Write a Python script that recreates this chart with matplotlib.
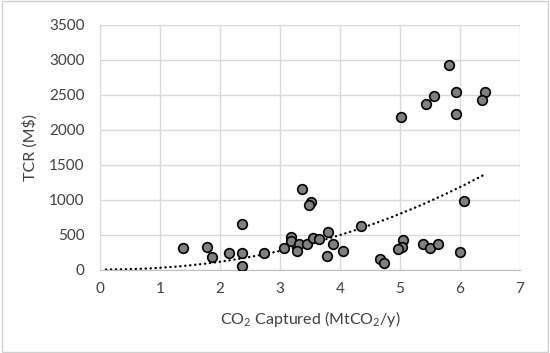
import numpy as np
import matplotlib
matplotlib.use('Agg')
import matplotlib.pyplot as plt
from matplotlib.patches import Rectangle

# CO2 captured (MtCO2/y) and total capital requirement (M$)
co2_captured = [1.38, 1.79, 1.87, 2.15, 2.36, 2.37, 2.37, 2.74, 3.06, 3.19,
                3.18, 3.31, 3.28, 3.45, 3.55, 3.65, 3.80, 3.89, 3.78, 4.05,
                4.35, 3.37, 3.52, 3.49, 6.07, 5.05, 5.04, 4.97, 4.67, 4.73,
                5.38, 5.50, 5.64, 6.00, 5.81, 5.94, 6.41, 6.37, 5.56, 5.44,
                5.94, 5.02]
tcr = [307, 321, 179, 240, 650, 236, 50, 236, 314, 470,
       407, 364, 258, 360, 452, 431, 543, 364, 186, 266,
       628, 1150, 969, 917, 983, 417, 326, 297, 150, 88,
       369, 302, 360, 255, 2926, 2536, 2531, 2417, 2474, 2364,
       2226, 2183]

# power trendline y = a * x^b
trend_a = 25.0
trend_b = 2.15
trend_range = [0.1, 6.4]

x_ticks = [0, 1, 2, 3, 4, 5, 6, 7]
y_ticks = [0, 500, 1000, 1500, 2000, 2500, 3000, 3500]

plt.rcParams['font.family'] = ['Lato', 'DejaVu Sans']
plt.rcParams['mathtext.fontset'] = 'custom'
plt.rcParams['mathtext.rm'] = 'Lato'

fig = plt.figure(figsize=(5.5, 3.53), dpi=100)
ax = fig.add_axes([0.1818, 0.2365, 0.7636, 0.694])

xt = np.linspace(trend_range[0], trend_range[1], 200)
ax.plot(xt, trend_a * xt ** trend_b, color='black', lw=1.7,
        linestyle=(0, (0.1, 2.0)), dash_capstyle='round', zorder=2)

ax.scatter(co2_captured, tcr, s=48, facecolor='#808080', edgecolor='black',
           linewidth=1.2, zorder=3)

ax.set_xlim(0, 7)
ax.set_ylim(0, 3500)
ax.set_xticks(x_ticks)
ax.set_yticks(y_ticks)
ax.grid(True, color='#d9d9d9', linewidth=1)
ax.set_axisbelow(True)
ax.tick_params(length=0, labelsize=11, colors='#404040')
ax.tick_params(axis='x', pad=9)
ax.tick_params(axis='y', pad=11)
for s in ['top', 'right']:
    ax.spines[s].set_visible(False)
ax.spines['left'].set_color('#d9d9d9')
ax.spines['bottom'].set_color('#bfbfbf')

ax.set_xlabel(r'CO$_2$ Captured (MtCO$_2$/y)', fontsize=11.5, color='#404040', labelpad=9)
ax.set_ylabel('TCR (M$)', fontsize=11.5, color='#404040', labelpad=8)

fig.patches.append(Rectangle((0.004, 0.004), 0.992, 0.992, transform=fig.transFigure,
                             fill=False, edgecolor='#d0d0d0', linewidth=1))

fig.savefig('out.png', dpi=100)
